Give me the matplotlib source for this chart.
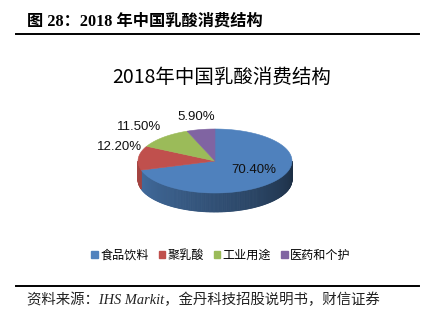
import numpy as np
import matplotlib.pyplot as plt
from matplotlib.patches import Polygon, Patch
from matplotlib.colors import to_rgb

# 2018 lactic acid consumption structure (%)
categories = ['食品饮料', '聚乳酸', '工业用途', '医药和个护']
shares = [70.40, 12.20, 11.50, 5.90]
colors = ['#4f81bd', '#c0504d', '#9bbb59', '#8064a2']

header = '图 28：2018 年中国乳酸消费结构'
title = '2018年中国乳酸消费结构'
source = '资料来源：IHS Markit，金丹科技招股说明书，财信证券'

W, H = 434, 323
fig = plt.figure(figsize=(W / 100, H / 100), dpi=100)
ax = fig.add_axes([0, 0, 1, 1])
ax.set_xlim(0, W)
ax.set_ylim(H, 0)
ax.axis('off')

cjk = 'Noto Sans CJK SC'

# header and footer
ax.text(27, 21, header, fontsize=11.7, fontweight='bold',
        family=['Liberation Serif', cjk], ha='left', va='center')
ax.plot([16, 419], [34, 34], color='black', lw=1.4)
ax.plot([16, 419], [286, 286], color='black', lw=1.4)
ax.text(27, 300, source, fontsize=10.4, style='italic',
        family=['Liberation Serif', cjk], ha='left', va='center', color='#222222')

ax.text(222, 77, title, fontsize=14, family=[cjk], ha='center', va='center')

# 3D pie
cx, cy, rx, ry, depth = 215, 161, 77, 32, 19


def ell(t):
    t = np.radians(t)
    return cx + rx * np.cos(t), cy - ry * np.sin(t)


def shade(c, f):
    return tuple(np.clip(np.array(to_rgb(c)) * f, 0, 1))


total = sum(shares)
start = 90.0
wedges = []
for v, c in zip(shares, colors):
    sweep = v / total * 360
    wedges.append((start - sweep, start, c))
    start -= sweep

# side walls, visible for angles between 180 and 360
for lo, hi, c in wedges:
    for k in (-1, 0, 1):
        a = max(lo, 180 + 360 * k)
        b = min(hi, 360 + 360 * k)
        if b <= a:
            continue
        steps = np.linspace(a, b, max(2, int((b - a) / 1.0) + 1))
        for t0, t1 in zip(steps[:-1], steps[1:]):
            tm = (0.5 * (t0 + t1) - 360 * k)
            f = 0.88 - 0.52 * (tm - 180) / 180
            col = shade(c, f)
            x0, y0 = ell(t0)
            x1, y1 = ell(t1)
            ax.add_patch(Polygon([(x0, y0), (x1, y1), (x1, y1 + depth), (x0, y0 + depth)],
                                 closed=True, fc=col, ec=col, lw=0.6))

# top face
for lo, hi, c in wedges:
    t = np.linspace(lo, hi, 120)
    xs, ys = ell(t)
    pts = [(cx, cy)] + list(zip(xs, ys))
    ax.add_patch(Polygon(pts, closed=True, fc=c, ec=c, lw=0.4))

# value labels
label_pos = [(254, 170), (120, 147), (139, 127), (196, 117)]
for v, (x, y) in zip(shares, label_pos):
    ax.text(x, y, f'{v:.2f}%', fontsize=9.5, family=['Liberation Sans'],
            ha='center', va='center', color='#111111')

handles = [Patch(color=c, label=n) for n, c in zip(categories, colors)]
ax.legend(handles=handles, loc='center', bbox_to_anchor=(221 / W, 1 - 255 / H),
          ncol=4, frameon=False, prop={'family': cjk, 'size': 8.7},
          handlelength=0.55, handleheight=0.55, handletextpad=0.2,
          columnspacing=0.8, borderpad=0)

fig.savefig('out.png', dpi=100)
